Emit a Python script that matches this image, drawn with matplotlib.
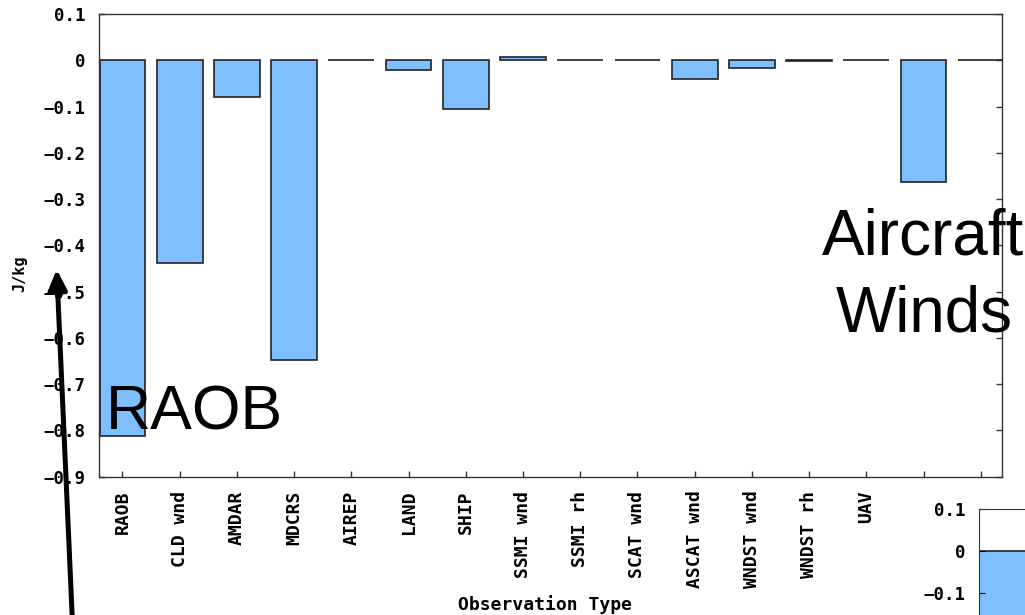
import matplotlib
matplotlib.use("Agg")
import matplotlib.pyplot as plt
import numpy as np

categories = ["RAOB", "CLD wnd", "AMDAR", "MDCRS", "AIREP", "LAND", "SHIP",
              "SSMI wnd", "SSMI rh", "SCAT wnd", "ASCAT wnd", "WNDST wnd",
              "WNDST rh", "UAV", "", ""]
values = [-0.812, -0.438, -0.079, -0.648, 0.0, -0.022, -0.106,
          0.006, 0.0, 0.0, -0.040, -0.016, -0.002, 0.0, -0.264, 0.0]
yticks = [0.1, 0, -0.1, -0.2, -0.3, -0.4, -0.5, -0.6, -0.7, -0.8, -0.9]
ytick_labels = ["0.1", "0", "\u22120.1", "\u22120.2", "\u22120.3", "\u22120.4",
                "\u22120.5", "\u22120.6", "\u22120.7", "\u22120.8", "\u22120.9"]

inset_values = [-0.5]
inset_yticks = [0.1, 0, -0.1]
inset_ytick_labels = ["0.1", "0", "\u22120.1"]

W, H = 1025, 615
fig = plt.figure(figsize=(W / 100, H / 100), dpi=100)
BAR = "#80BFFF"
EDGE = "#222222"
mono = "DejaVu Sans Mono"
fw = "bold"

def px_axes(l, t, r, b):
    return [l / W, 1 - b / H, (r - l) / W, (b - t) / H]

ax = fig.add_axes(px_axes(99, 14, 1002, 476.7))
x = np.arange(len(categories))
ax.bar(x, values, width=0.8, color=BAR, edgecolor=EDGE, linewidth=1.2, zorder=2)
ax.set_xlim(-0.41, 15.37)
ax.set_ylim(-0.9, 0.1)
ax.set_yticks(yticks)
ax.set_yticklabels(ytick_labels, fontfamily=mono, fontsize=12.5, fontweight=fw)
ax.set_xticks(x)
ax.set_xticklabels(categories, rotation=90, fontfamily=mono, fontsize=13,
                   fontweight=fw)
ax.tick_params(axis="both", direction="in", length=4, width=1, color="#333333")
ax.tick_params(axis="y", right=True, left=True, pad=10)
ax.tick_params(axis="x", top=False, pad=10)
for s in ax.spines.values():
    s.set_color("#333333")
    s.set_linewidth(1.0)

fig.text(458 / W, 1 - 605 / H, "Observation Type", fontfamily=mono,
         fontsize=13, fontweight=fw, ha="left", va="center")
fig.text(20 / W, 1 - 274 / H, "J/kg", fontfamily=mono, fontsize=11,
         fontweight=fw, rotation=90, ha="center", va="center")

# annotations
fig.text(106 / W, 1 - 429.5 / H, "RAOB", fontfamily="Liberation Sans",
         fontsize=45, ha="left", va="baseline")
fig.text(923 / W, 1 - 255 / H, "Aircraft", fontfamily="Liberation Sans",
         fontsize=46, ha="center", va="baseline")
fig.text(924 / W, 1 - 332 / H, "Winds", fontfamily="Liberation Sans",
         fontsize=46, ha="center", va="baseline")

# inset chart (partially visible)
iax = fig.add_axes(px_axes(979, 509.3, 1279, 509.3 + 417))
iax.bar([0], inset_values, width=0.8, color=BAR, edgecolor=EDGE, linewidth=1.2)
iax.set_xlim(-0.4, 4.0)
iax.set_ylim(-0.9, 0.1)
iax.set_yticks(inset_yticks)
iax.set_yticklabels(inset_ytick_labels, fontfamily=mono, fontsize=12.5,
                    fontweight=fw)
iax.set_xticks([])
iax.tick_params(axis="y", direction="in", length=4, pad=10)
for s in iax.spines.values():
    s.set_color("#333333")

# arrow
fig.patches.append(matplotlib.patches.FancyArrowPatch(
    (72.5, -8), (56.7, H - 269.5), transform=None,
    arrowstyle="-|>,head_length=0.6,head_width=0.28", mutation_scale=20,
    lw=3.6, color="black", shrinkA=0, shrinkB=0, zorder=10))

fig.savefig("out.png", dpi=100)
